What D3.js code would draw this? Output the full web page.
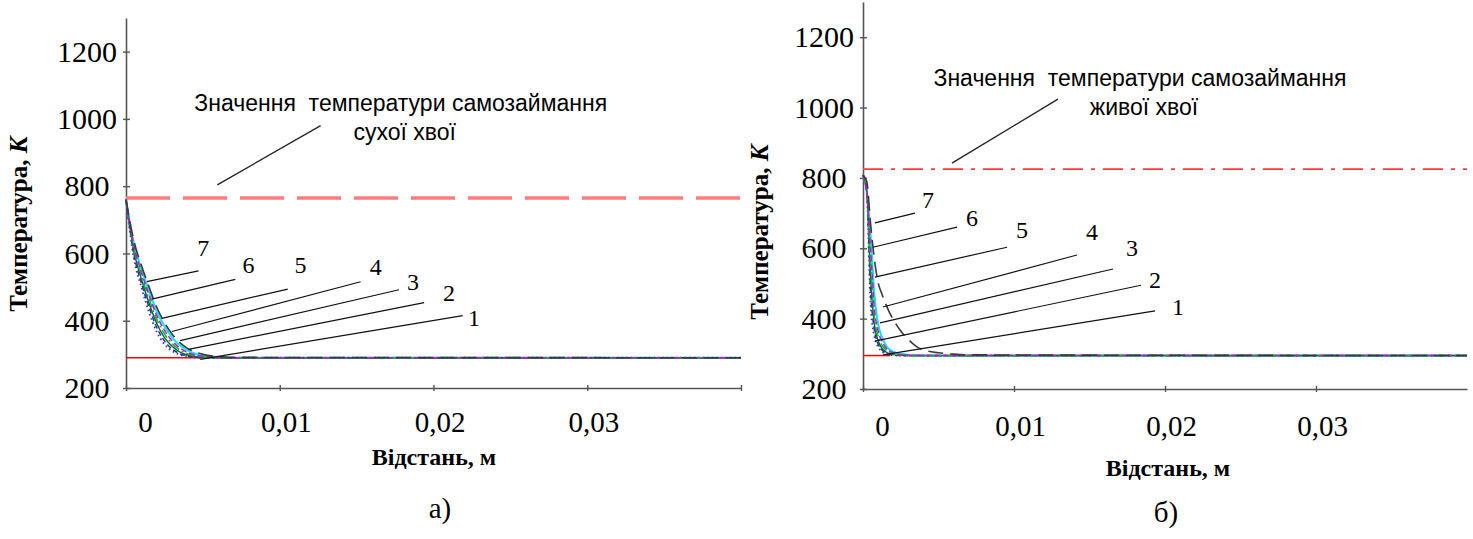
<!DOCTYPE html>
<html>
<head>
<meta charset="utf-8">
<script src="https://cdn.jsdelivr.net/npm/d3@7"></script>
<style>
  html, body { margin: 0; padding: 0; background: #fff; }
  svg { display: block; }
</style>
</head>
<body>
<div id="app"></div>
<script>
const width = 1473;
const height = 539;

// axis ticks
const xTicks = [0, 0.01, 0.02, 0.03];
const yTicks = [200, 400, 600, 800, 1000, 1200];
const curveNames = ['1', '2', '3', '4', '5', '6', '7'];

// а) dry needles
const xLeft = [0, 0.0005, 0.001, 0.0015, 0.002, 0.0025, 0.003, 0.0035, 0.004, 0.0045, 0.005, 0.006, 0.007, 0.04];
const tLeft = [
  [760, 640, 565, 500, 440, 395, 360, 335, 318, 307, 300, 293, 291, 290],
  [760, 632, 555, 488, 428, 384, 350, 327, 312, 302, 296, 292, 290, 290],
  [760, 625, 545, 476, 416, 372, 340, 319, 306, 298, 294, 291, 290, 290],
  [760, 618, 535, 464, 404, 361, 332, 313, 302, 296, 292, 290, 290, 290],
  [760, 610, 524, 452, 392, 350, 324, 307, 298, 294, 291, 290, 290, 290],
  [760, 600, 512, 440, 380, 340, 316, 302, 295, 292, 290, 290, 290, 290],
  [760, 588, 500, 425, 367, 330, 310, 299, 294, 291, 290, 290, 290, 290],
];
const ambientLeft = 290;
const ambientLeftEnd = 0.005;
const ignitionDry = 765;

// б) live needles
const xRight = [0, 0.00025, 0.0005, 0.00075, 0.001, 0.00125, 0.0015, 0.00175, 0.002, 0.0025, 0.003, 0.0035, 0.004, 0.005, 0.006, 0.007, 0.04];
const tRight = [
  [808, 790, 670, 570, 503, 470, 442, 418, 398, 365, 341, 322, 311, 303, 299, 297, 295],
  [808, 762, 640, 470, 385, 348, 326, 312, 306, 300, 297, 296, 295, 295, 295, 295, 295],
  [808, 760, 600, 430, 365, 336, 318, 308, 303, 298, 296, 295, 295, 295, 295, 295, 295],
  [808, 758, 560, 405, 350, 325, 312, 304, 300, 297, 295, 295, 295, 295, 295, 295, 295],
  [808, 762, 520, 385, 338, 316, 306, 300, 298, 296, 295, 295, 295, 295, 295, 295, 295],
  [808, 760, 480, 368, 328, 311, 303, 299, 297, 295, 295, 295, 295, 295, 295, 295, 295],
  [808, 758, 440, 350, 320, 307, 300, 297, 296, 295, 295, 295, 295, 295, 295, 295, 295],
];
const ambientRight = 295;
const ambientRightEnd = 0.0018;
const ignitionLive = 825;

// leader lines for curve numbers: [x1, T1, x2, T2, xLabel, TLabel]
const leadersLeft = [
  [0.00483, 285, 0.0219, 415, 0.02264, 408],
  [0.00406, 315, 0.01939, 454, 0.0210, 483],
  [0.00352, 341, 0.01776, 492, 0.01866, 515],
  [0.00298, 368, 0.01526, 516, 0.01624, 560],
  [0.00233, 407, 0.01052, 494, 0.01135, 566],
  [0.00168, 464, 0.00711, 523, 0.00796, 566],
  [0.00135, 516, 0.00472, 548, 0.00502, 617],
];
const leadersRight = [
  [0.00132, 297, 0.01934, 422, 0.02086, 433],
  [0.00079, 336, 0.01841, 495, 0.01934, 510],
  [0.00113, 388, 0.01656, 541, 0.01781, 603],
  [0.00132, 433, 0.01417, 581, 0.01517, 646],
  [0.00079, 518, 0.00954, 603, 0.01053, 652],
  [0.00066, 603, 0.00623, 660, 0.00722, 686],
  [0.00079, 672, 0.00344, 700, 0.0043, 737],
];

// threshold annotation: [xLine1, TLine1, xLine2, TLine2, xFrom, TFrom, xTo, TTo]
const noteLeft = [0.01787, 1048, 0.01813, 962, 0.01266, 980, 0.00594, 804];
const noteRight = [0.01834, 1084, 0.01861, 1001, 0.01291, 1024, 0.00589, 842];
const noteLine1 = 'Значення  температури самозаймання';
const noteLeft2 = 'сухої хвої';
const noteRight2 = 'живої хвої';

const curveStyles = [
  {color: '#3a3a3a', dash: '15,7', width: 1.6},
  {color: '#00e8f0', dash: null, width: 2},
  {color: '#e000e0', dash: '6,3', width: 1.5},
  {color: '#00c800', dash: '9,3,2,3', width: 1.6},
  {color: '#006040', dash: null, width: 1.4},
  {color: '#303090', dash: '5,3', width: 1.5},
  {color: '#3535ff', dash: '1.5,3', width: 1.9},
];
const drawOrder = [1, 6, 5, 4, 3, 2, 0];

const serif = '"Liberation Serif", "Times New Roman", serif';
const sans = '"Liberation Sans", Arial, sans-serif';
const fmt = d3.formatLocale({decimal: ',', thousands: ' ', grouping: [3], currency: ['', '']}).format('.2f');

const svg = d3.select('#app').append('svg')
  .attr('width', width)
  .attr('height', height)
  .attr('viewBox', [0, 0, width, height]);

svg.append('rect').attr('width', width).attr('height', height).attr('fill', '#fff');

function drawPanel(p) {
  const x = d3.scaleLinear().domain([0, 0.04]).range(p.xRange);
  const y = d3.scaleLinear().domain([200, 1300]).range(p.yRange);
  const g = svg.append('g');

  // axes
  const xAxis = g.append('g')
    .attr('transform', `translate(0,${p.yRange[0]})`)
    .call(d3.axisBottom(x).tickValues(p.xTickValues).tickSize(3).tickSizeOuter(0)
      .tickFormat((d)=>d === 0 ? '0' : (d >= 0.04 ? '' : fmt(d))));
  xAxis.selectAll('.tick').append('line').attr('y2', -3);
  xAxis.selectAll('.tick text')
    .attr('y', p.xLabelOffset).attr('dy', '0.35em')
    .attr('dx', (d)=>d === 0 ? 19 : 6)
    .style('font-family', serif).style('font-size', '29px').attr('fill', '#000');

  const yAxis = g.append('g')
    .attr('transform', `translate(${p.xRange[0]},0)`)
    .call(d3.axisLeft(y).tickValues(yTicks).tickSize(3).tickSizeOuter(0).tickFormat(d3.format('d')));
  yAxis.selectAll('.tick').append('line').attr('x2', 4);
  yAxis.selectAll('.tick text')
    .attr('x', -39).attr('text-anchor', 'middle')
    .style('font-family', serif).style('font-size', '30px').attr('fill', '#000');

  [xAxis, yAxis].forEach((a)=>{
    a.select('.domain').attr('stroke', '#555').attr('stroke-width', 1.6);
    a.selectAll('.tick line').attr('stroke', '#555').attr('stroke-width', 1.4);
  });

  // ignition threshold
  g.append('line')
    .attr('x1', x(0)).attr('x2', x(0.04))
    .attr('y1', y(p.ignition)).attr('y2', y(p.ignition))
    .attr('stroke', p.threshold.color)
    .attr('stroke-width', p.threshold.width)
    .attr('stroke-dasharray', p.threshold.dash);

  // ambient
  g.append('line')
    .attr('x1', x(0)).attr('x2', x(p.ambientEnd))
    .attr('y1', y(p.ambient)).attr('y2', y(p.ambient))
    .attr('stroke', '#ff0000').attr('stroke-width', 1.5);

  const line = d3.line()
    .x((d)=>x(d[0]))
    .y((d)=>y(d[1]))
    .curve(d3.curveMonotoneX);

  drawOrder.forEach((i)=>{
    const s = curveStyles[i];
    g.append('path')
      .datum(p.xs.map((v, k)=>[v, p.ts[i][k]]))
      .attr('fill', 'none')
      .attr('stroke', s.color)
      .attr('stroke-width', s.width)
      .attr('stroke-dasharray', s.dash)
      .attr('d', line);
  });

  // curve number leaders
  p.leaders.forEach((l, i)=>{
    g.append('line')
      .attr('x1', x(l[0])).attr('y1', y(l[1]))
      .attr('x2', x(l[2])).attr('y2', y(l[3]))
      .attr('stroke', '#111').attr('stroke-width', 1.2);
    g.append('text')
      .attr('x', x(l[4])).attr('y', y(l[5]))
      .attr('text-anchor', 'middle').attr('dy', '0.35em')
      .style('font-family', serif).style('font-size', '24px')
      .text(curveNames[i]);
  });

  // threshold note
  const n = p.note;
  g.append('line')
    .attr('x1', x(n[4])).attr('y1', y(n[5]))
    .attr('x2', x(n[6])).attr('y2', y(n[7]))
    .attr('stroke', '#222').attr('stroke-width', 1.3);
  g.append('text')
    .attr('x', x(n[0])).attr('y', y(n[1])).attr('dy', '0.35em')
    .attr('text-anchor', 'middle')
    .style('font-family', sans).style('font-size', '23px').style('white-space', 'pre')
    .text(noteLine1);
  g.append('text')
    .attr('x', x(n[2])).attr('y', y(n[3])).attr('dy', '0.35em')
    .attr('text-anchor', 'middle')
    .style('font-family', sans).style('font-size', '23px')
    .text(p.note2);

  // axis titles
  const yt = g.append('text')
    .attr('transform', `translate(${p.yTitle[0]},${p.yTitle[1]}) rotate(-90)`)
    .attr('text-anchor', 'middle').attr('dy', '0.35em')
    .style('font-family', serif).style('font-size', '25px').style('font-weight', 'bold');
  yt.append('tspan').text('Температура, ');
  yt.append('tspan').style('font-style', 'italic').text('К');

  g.append('text')
    .attr('x', p.xTitle[0]).attr('y', p.xTitle[1]).attr('dy', '0.35em')
    .attr('text-anchor', 'middle')
    .style('font-family', serif).style('font-size', '24px').style('font-weight', 'bold')
    .text('Відстань, м');

  g.append('text')
    .attr('x', p.caption[0]).attr('y', p.caption[1]).attr('dy', '0.35em')
    .attr('text-anchor', 'middle')
    .style('font-family', serif).style('font-size', '29px')
    .text(p.captionText);
}

drawPanel({
  xRange: [126, 741], yRange: [388, 18],
  xTickValues: xTicks.concat([0.04]), xLabelOffset: 34,
  xs: xLeft, ts: tLeft,
  ambient: ambientLeft, ambientEnd: ambientLeftEnd,
  ignition: ignitionDry,
  threshold: {color: '#ff7c7c', width: 3.6, dash: '44,13'},
  leaders: leadersLeft,
  note: noteLeft, note2: noteLeft2,
  yTitle: [18, 224], xTitle: [434, 457], caption: [440, 508], captionText: 'а)',
});

drawPanel({
  xRange: [863, 1467], yRange: [389, 2],
  xTickValues: xTicks, xLabelOffset: 37,
  xs: xRight, ts: tRight,
  ambient: ambientRight, ambientEnd: ambientRightEnd,
  ignition: ignitionLive,
  threshold: {color: '#ff3c3c', width: 1.8, dash: '20,8,4,8'},
  leaders: leadersRight,
  note: noteRight, note2: noteRight2,
  yTitle: [759, 232], xTitle: [1168, 468], caption: [1166, 512], captionText: 'б)',
});
</script>
</body>
</html>
